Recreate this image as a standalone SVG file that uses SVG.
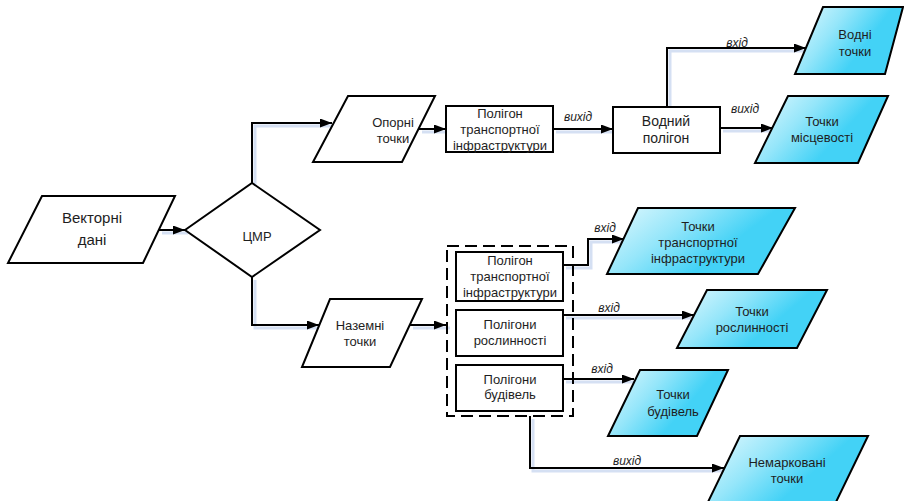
<svg xmlns="http://www.w3.org/2000/svg" width="904" height="501" viewBox="0 0 904 501">
<defs>
<linearGradient id="cy" x1="0" y1="0" x2="0.75" y2="0.35">
<stop offset="0" stop-color="#e4f9fe"/>
<stop offset="0.55" stop-color="#95e6fa"/>
<stop offset="1" stop-color="#43d2f6"/>
</linearGradient>
<marker id="arr" markerUnits="userSpaceOnUse" markerWidth="13" markerHeight="9" refX="12" refY="4.5" orient="auto">
<path d="M0,0 L12,4.5 L0,9 z" fill="#000"/>
</marker>
<style>
.s{fill:#fff;stroke:#000;stroke-width:2;stroke-linejoin:miter}
.c{fill:url(#cy);stroke:#000;stroke-width:2}
.t{font-family:"Liberation Sans",Arial,sans-serif;font-size:13px;fill:#1e1e1e;text-anchor:middle}
.b{font-size:14px}
.v{font-size:15px}
.l{font-family:"Liberation Sans",Arial,sans-serif;font-size:12px;font-style:italic;fill:#1e1e1e;text-anchor:middle}
.w{fill:none;stroke:#000;stroke-width:2}
.sh{fill:none;stroke:#d5e0f3;stroke-width:3}
</style>
</defs>
<rect width="904" height="501" fill="#fff"/>
<g id="shadows" transform="translate(3,3)">
<polyline class="sh" points="159,230 185,230"/>
<polyline class="sh" points="252,183 252,123 331,123"/>
<polyline class="sh" points="419,129 446,129"/>
<polyline class="sh" points="553,129 613,129"/>
<polyline class="sh" points="667,107 667,48 806,48"/>
<polyline class="sh" points="720,128 773,128"/>
<polyline class="sh" points="252,277 252,325 318,325"/>
<polyline class="sh" points="410,325 447,325"/>
<polyline class="sh" points="563,265 588,265 588,239 624,239"/>
<polyline class="sh" points="563,315 694,315"/>
<polyline class="sh" points="563,379 633,379"/>
<polyline class="sh" points="530,416 530,468 724,468"/>
</g>
<g id="connectors">
<polyline class="w" marker-end="url(#arr)" points="159,230 185,230"/>
<polyline class="w" marker-end="url(#arr)" points="252,183 252,123 332,123"/>
<polyline class="w" marker-end="url(#arr)" points="419,129 446,129"/>
<polyline class="w" marker-end="url(#arr)" points="553,129 613,129"/>
<polyline class="w" marker-end="url(#arr)" points="667,107 667,48 806,48"/>
<polyline class="w" marker-end="url(#arr)" points="720,128 773,128"/>
<polyline class="w" marker-end="url(#arr)" points="252,277 252,325 319,325"/>
<polyline class="w" marker-end="url(#arr)" points="410,325 446,325"/>
<polyline class="w" marker-end="url(#arr)" points="563,265 588,265 588,239 624,239"/>
<polyline class="w" marker-end="url(#arr)" points="563,315 694,315"/>
<polyline class="w" marker-end="url(#arr)" points="563,379 634,379"/>
<polyline class="w" marker-end="url(#arr)" points="530,416 530,468 724,468"/>
<text class="l" x="578" y="121">вихід</text>
<text class="l" x="737" y="47">вхід</text>
<text class="l" x="745" y="113">вихід</text>
<text class="l" x="605" y="232">вхід</text>
<text class="l" x="609" y="312">вхід</text>
<text class="l" x="602" y="373">вхід</text>
<text class="l" x="627" y="465">вихід</text>
</g>
<g id="vector-data">
<polygon class="s" points="42,196 175,196 143,263 8,263"/>
<text class="t v" x="92" y="223">Векторні</text>
<text class="t v" x="92" y="245">дані</text>
</g>
<g id="dem">
<polygon class="s" points="185,230 252,183 320,230 252,277"/>
<text class="t" x="257" y="241">ЦМР</text>
</g>
<g id="reference-points">
<polygon class="s" points="348,96 435,96 402,162 313,162"/>
<text class="t" x="393" y="127">Опорні</text>
<text class="t" x="393" y="143">точки</text>
</g>
<g id="transport-polygon-top">
<rect class="s" x="446" y="106" width="107" height="46"/>
<text class="t" x="500" y="118">Полігон</text>
<text class="t" x="500" y="134">транспортної</text>
<text class="t" x="500" y="150">інфраструктури</text>
</g>
<g id="water-polygon">
<rect class="s" x="613" y="107" width="107" height="46"/>
<text class="t b" x="666" y="126">Водний</text>
<text class="t b" x="666" y="143">полігон</text>
</g>
<g id="water-points">
<polygon class="c" points="823,7 903,7 885,74 795,74"/>
<text class="t" x="855" y="39">Водні</text>
<text class="t" x="855" y="56">точки</text>
</g>
<g id="terrain-points">
<polygon class="c" points="788,96 888,96 858,163 755,163"/>
<text class="t" x="822" y="126">Точки</text>
<text class="t" x="822" y="142">місцевості</text>
</g>
<g id="ground-points">
<polygon class="s" points="330,299 422,299 390,367 302,367"/>
<text class="t" x="360" y="330">Наземні</text>
<text class="t" x="360" y="346">точки</text>
</g>
<g id="polygon-group">
<rect x="447" y="246" width="126" height="170" fill="none" stroke="#000" stroke-width="2" stroke-dasharray="12,6"/>
</g>
<g id="transport-polygon">
<rect class="s" x="456" y="252" width="107" height="49"/>
<text class="t" x="510" y="265">Полігон</text>
<text class="t" x="510" y="281">транспортної</text>
<text class="t" x="510" y="297">інфраструктури</text>
</g>
<g id="vegetation-polygons">
<rect class="s" x="456" y="310" width="107" height="46"/>
<text class="t" x="510" y="329">Полігони</text>
<text class="t" x="510" y="345">рослинності</text>
</g>
<g id="building-polygons">
<rect class="s" x="456" y="365" width="107" height="46"/>
<text class="t" x="510" y="384">Полігони</text>
<text class="t" x="510" y="399">будівель</text>
</g>
<g id="transport-points">
<polygon class="c" points="638,208 795,208 758,274 607,274"/>
<text class="t" x="698" y="231">Точки</text>
<text class="t" x="698" y="247">транспортної</text>
<text class="t" x="698" y="263">інфраструктури</text>
</g>
<g id="vegetation-points">
<polygon class="c" points="707,290 827,290 797,348 677,348"/>
<text class="t" x="752" y="316">Точки</text>
<text class="t" x="752" y="332">рослинності</text>
</g>
<g id="building-points">
<polygon class="c" points="640,370 728,370 697,436 608,436"/>
<text class="t" x="673" y="399">Точки</text>
<text class="t" x="673" y="416">будівель</text>
</g>
<g id="unlabeled-points">
<polygon class="c" points="740,436 868,436 836,502 708,502"/>
<text class="t" x="787" y="467">Немарковані</text>
<text class="t" x="787" y="483">точки</text>
</g>
</svg>
